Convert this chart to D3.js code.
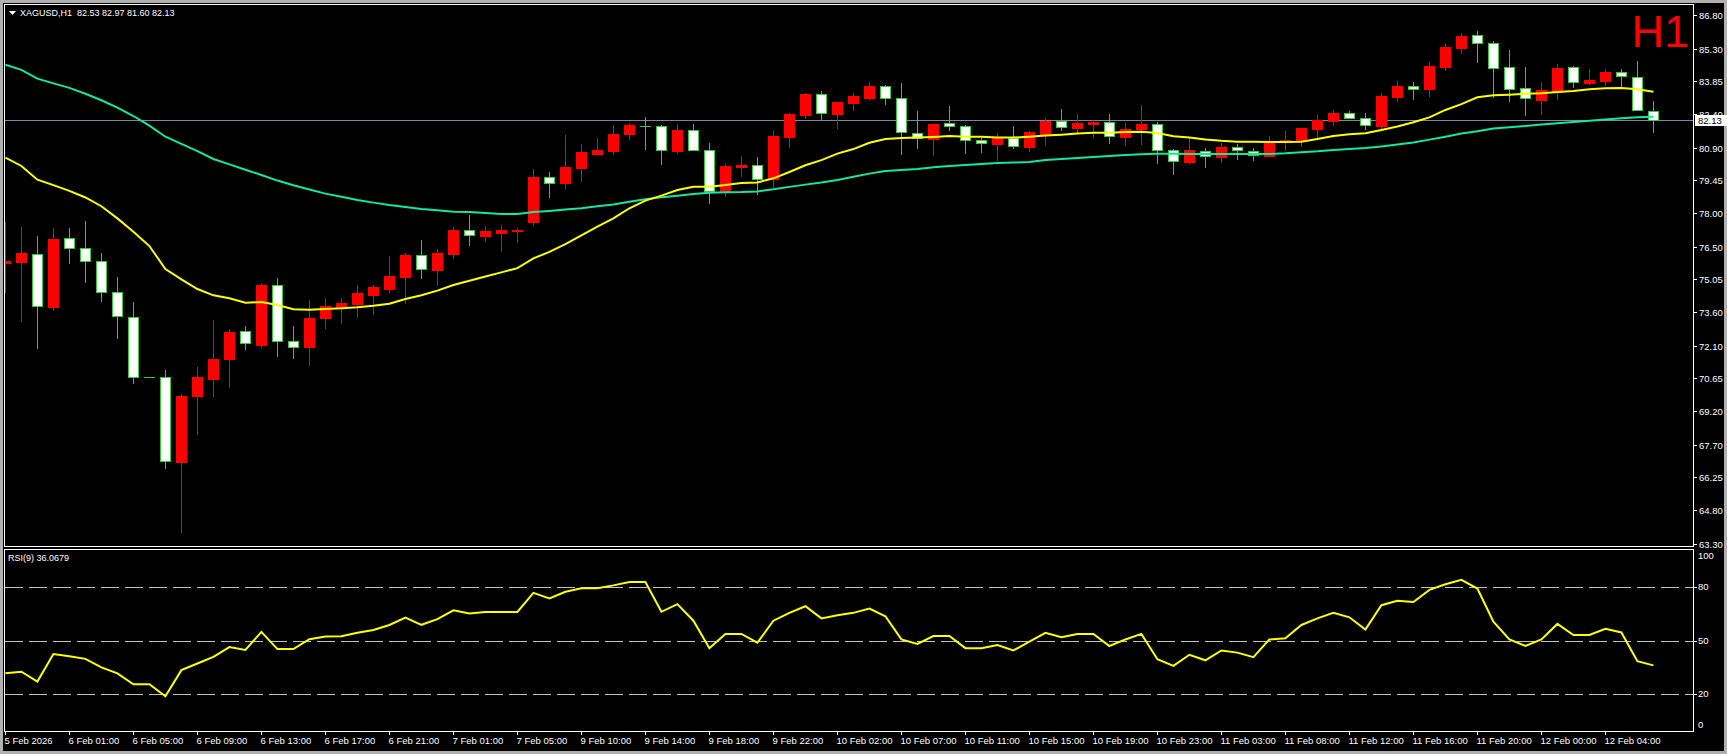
<!DOCTYPE html>
<html><head><meta charset="utf-8">
<script src="https://cdn.jsdelivr.net/npm/d3@7"></script>
<style>html,body{margin:0;padding:0;background:#000;overflow:hidden}</style>
</head><body>
<svg id="c" width="1727" height="754"></svg>
<script>
// ---------- DATA ----------
const symbolTitle = "XAGUSD,H1";
const lastOHLC = ["82.53","82.97","81.60","82.13"];
const opens = [75.79,75.83,76.16,73.82,76.87,76.43,75.85,74.47,73.36,70.69,70.69,66.95,69.88,70.64,71.52,72.74,72.14,74.78,72.29,72.06,73.35,73.82,73.97,74.37,74.64,75.17,76.12,75.48,76.19,77.23,76.99,77.12,77.22,77.61,79.58,79.35,80.01,80.64,80.77,81.53,81.88,81.85,80.77,81.67,80.78,78.96,80.04,80.12,79.51,81.38,82.36,83.27,82.41,82.90,83.13,83.63,83.10,81.54,81.30,81.98,81.85,81.23,81.08,81.32,80.93,81.51,82.07,81.79,81.97,82.03,81.39,81.73,81.94,80.78,80.28,80.74,80.50,80.92,80.74,80.55,81.22,81.22,81.73,82.10,82.43,82.21,81.88,83.17,83.63,83.51,84.49,85.35,85.91,85.54,84.47,83.54,83.02,83.39,84.47,83.78,83.87,84.25,84.03,82.53];
const highs = [77.58,77.38,76.98,77.33,77.33,77.64,76.22,75.15,74.04,70.69,71.02,69.95,71.15,73.24,72.84,72.98,74.89,75.11,72.98,74.13,74.23,74.22,74.80,74.80,76.10,76.22,76.80,76.40,77.37,77.91,77.42,77.46,77.33,79.95,79.82,81.47,81.07,81.33,81.91,82.00,82.27,81.90,81.95,81.95,81.11,80.18,80.53,80.49,81.64,82.44,83.33,83.42,82.95,83.32,83.81,83.69,83.78,82.53,81.97,82.76,81.91,81.35,81.55,81.87,81.64,82.22,82.62,82.41,82.13,82.40,82.00,82.80,82.04,80.84,81.35,80.89,81.11,81.07,80.89,81.42,81.64,81.78,82.36,82.58,82.53,82.43,83.32,83.87,83.82,84.71,85.51,85.99,86.09,85.63,85.24,84.49,83.82,84.62,84.53,84.40,84.40,84.40,84.76,82.97];
const lows = [74.50,73.21,72.01,73.70,75.79,74.95,74.10,72.46,70.46,70.69,66.68,63.84,68.19,69.88,70.28,71.97,72.06,71.66,71.57,71.26,72.90,73.12,73.39,73.52,74.50,74.01,75.12,74.81,76.01,76.58,76.75,76.31,76.71,77.47,78.72,79.12,79.44,80.64,80.64,81.29,80.86,80.19,80.68,80.78,78.46,78.77,79.64,78.86,79.17,80.93,82.24,82.18,81.79,82.59,83.08,82.86,80.64,80.90,80.57,81.69,80.66,80.71,80.35,80.90,80.75,81.02,81.69,81.54,81.38,81.11,81.02,81.08,80.22,79.73,80.22,80.04,80.27,80.40,80.35,80.52,80.80,80.98,81.36,81.91,82.21,81.75,81.75,82.99,83.07,83.20,84.36,85.13,84.71,83.14,82.98,82.35,82.40,83.08,83.62,83.73,83.69,83.64,82.56,81.60];
const closes = [75.86,76.22,73.85,76.84,76.43,75.85,74.47,73.40,70.69,70.69,66.98,69.86,70.71,71.51,72.71,72.20,74.80,72.29,72.04,73.33,73.86,74.00,74.44,74.71,75.20,76.13,75.49,76.22,77.24,77.00,77.18,77.24,77.24,79.60,79.32,80.04,80.71,80.80,81.51,81.91,81.88,80.78,81.69,80.78,78.96,80.09,80.12,79.52,81.42,82.40,83.29,82.43,82.93,83.20,83.64,83.10,81.59,81.35,81.95,81.85,81.23,81.10,81.35,80.96,81.60,82.09,81.81,82.00,82.04,81.41,81.72,81.95,80.78,80.29,80.80,80.52,80.93,80.78,80.56,81.13,81.26,81.78,82.13,82.43,82.21,81.90,83.20,83.64,83.53,84.53,85.38,85.87,85.54,84.46,83.50,83.10,83.47,84.44,83.84,83.91,84.27,84.07,82.56,82.13];
const maFast = [80.46,80.09,79.48,79.24,78.98,78.69,78.30,77.76,77.17,76.53,75.51,75.05,74.62,74.34,74.21,74.01,74.04,73.91,73.72,73.70,73.73,73.76,73.81,73.88,73.97,74.18,74.34,74.55,74.80,74.99,75.18,75.36,75.55,75.98,76.27,76.62,77.01,77.39,77.76,78.21,78.55,78.77,79.02,79.17,79.17,79.24,79.33,79.36,79.54,79.82,80.12,80.35,80.64,80.84,81.12,81.29,81.33,81.35,81.38,81.42,81.39,81.39,81.35,81.35,81.39,81.44,81.48,81.53,81.57,81.57,81.60,81.61,81.55,81.41,81.35,81.27,81.21,81.17,81.17,81.16,81.16,81.17,81.29,81.42,81.50,81.54,81.69,81.84,82.03,82.25,82.58,82.84,83.14,83.23,83.26,83.30,83.32,83.38,83.42,83.50,83.54,83.56,83.50,83.39];
const maSlow = [84.59,84.36,83.97,83.76,83.56,83.30,83.01,82.68,82.31,81.88,81.39,81.07,80.75,80.40,80.16,79.92,79.69,79.44,79.23,79.04,78.86,78.72,78.58,78.46,78.35,78.27,78.18,78.12,78.06,78.04,78.00,77.95,77.95,78.04,78.09,78.15,78.21,78.30,78.38,78.50,78.61,78.70,78.77,78.84,78.90,78.92,78.93,78.96,79.05,79.16,79.26,79.35,79.47,79.61,79.75,79.87,79.91,79.95,80.03,80.09,80.13,80.18,80.22,80.24,80.27,80.36,80.40,80.44,80.49,80.53,80.58,80.61,80.63,80.63,80.62,80.62,80.62,80.62,80.62,80.62,80.65,80.70,80.74,80.80,80.84,80.89,80.96,81.04,81.13,81.26,81.39,81.53,81.63,81.75,81.81,81.87,81.93,81.99,82.04,82.10,82.16,82.21,82.25,82.28];
const rsi = [31.6,32.5,27.0,42.4,41.2,39.7,34.9,31.6,25.5,25.5,18.7,33.4,37.1,40.8,46.3,44.7,54.8,45.2,45.2,50.7,52.2,52.4,54.4,55.9,58.7,62.9,58.8,62.0,66.9,65.1,66.0,66.0,66.0,76.7,73.6,77.3,79.3,79.3,80.9,82.8,82.8,66.1,70.4,61.1,45.7,53.7,53.7,48.8,61.1,65.5,69.2,62.4,64.2,65.5,67.9,63.6,50.6,48.1,52.5,52.5,45.7,45.7,47.5,44.4,49.4,54.3,51.9,53.7,53.7,46.9,50.6,53.7,39.5,35.8,42.0,38.9,44.4,43.2,40.7,50.6,51.2,58.7,62.4,65.5,63.0,56.2,69.8,72.3,71.6,78.4,81.5,84.0,79.1,60.5,50.6,46.9,50.6,59.3,53.1,53.1,56.6,54.5,38.4,36.07];
const rsiLabel = "RSI(9) 36.0679";
const priceTicks = ["86.80","85.30","83.85","82.40","80.90","79.45","78.00","76.50","75.05","73.60","72.10","70.65","69.20","67.70","66.25","64.80","63.30"];
const bidPrice = 82.13;
const rsiLevels = [80,50,20];
const rsiTickLabels = ["100","80","50","20","0"];
const timeLabels = ["5 Feb 2026","6 Feb 01:00","6 Feb 05:00","6 Feb 09:00","6 Feb 13:00","6 Feb 17:00","6 Feb 21:00","7 Feb 01:00","7 Feb 05:00","9 Feb 10:00","9 Feb 14:00","9 Feb 18:00","9 Feb 22:00","10 Feb 02:00","10 Feb 07:00","10 Feb 11:00","10 Feb 15:00","10 Feb 19:00","10 Feb 23:00","11 Feb 03:00","11 Feb 08:00","11 Feb 12:00","11 Feb 16:00","11 Feb 20:00","12 Feb 00:00","12 Feb 04:00"];
const labelEvery = 4;

// ---------- LAYOUT ----------
const W = 1727, H = 754;
const plotL = 4, plotR = 1693, mainT = 4, mainB = 546, rsiT = 549, rsiB = 731;
const FONT = "'Liberation Sans', Arial, sans-serif";
const UP = "#ff0000", DOWN_FILL = "#ffffff", DOWN_LINE = "#32cd32";

const svg = d3.select("#c");
svg.append("rect").attr("width", W).attr("height", H).attr("fill", "#b0b0b0");
svg.append("rect").attr("x", 3).attr("y", 3).attr("width", W - 6).attr("height", H - 6).attr("fill", "#000");

const n = closes.length;
const x = d3.scaleLinear().domain([0, n - 1]).range([5.4, 5.4 + 16 * (n - 1)]);
const y = d3.scaleLinear().domain([63.3, 86.8]).range([543.7, 15]);
const yr = d3.scaleLinear().domain([0, 100]).range([729.7, 551.3]);
const px = i => Math.floor(x(i));

const defs = svg.append("defs");
defs.append("clipPath").attr("id", "clipMain").append("rect")
  .attr("x", plotL + 1).attr("y", mainT + 1).attr("width", plotR - plotL - 1).attr("height", mainB - mainT - 1);
defs.append("clipPath").attr("id", "clipRsi").append("rect")
  .attr("x", plotL + 1).attr("y", rsiT + 1).attr("width", plotR - plotL - 1).attr("height", rsiB - rsiT - 1);

// ---------- MAIN PANEL ----------
const main = svg.append("g").attr("clip-path", "url(#clipMain)");

// bid line
main.append("line").attr("x1", plotL).attr("x2", plotR)
  .attr("y1", Math.round(y(bidPrice)) + 0.5).attr("y2", Math.round(y(bidPrice)) + 0.5)
  .attr("stroke", "#7a8a9c").attr("stroke-width", 1).attr("shape-rendering", "crispEdges");

const idx = d3.range(n);
const candles = main.append("g").attr("shape-rendering", "crispEdges");
idx.forEach(i => {
  const o = opens[i], c = closes[i], h = highs[i], l = lows[i];
  const up = c > o;
  const cx = px(i);
  const col = up ? UP : DOWN_LINE;
  candles.append("line").attr("x1", cx + 0.5).attr("x2", cx + 0.5)
    .attr("y1", Math.round(y(h))).attr("y2", Math.round(y(l)) + 1)
    .attr("stroke", col).attr("stroke-width", 1);
  const top = Math.round(y(Math.max(o, c))), bot = Math.round(y(Math.min(o, c)));
  if (bot - top < 1) {
    candles.append("line").attr("x1", cx - 5).attr("x2", cx + 6)
      .attr("y1", top + 0.5).attr("y2", top + 0.5).attr("stroke", col).attr("stroke-width", 1);
  } else if (up) {
    candles.append("rect").attr("x", cx - 5).attr("y", top).attr("width", 11).attr("height", bot - top + 1)
      .attr("fill", UP);
  } else {
    candles.append("rect").attr("x", cx - 4.5).attr("y", top + 0.5).attr("width", 10).attr("height", bot - top)
      .attr("fill", DOWN_FILL).attr("stroke", DOWN_LINE).attr("stroke-width", 1);
  }
});

const lineGen = arr => d3.line().x((d, i) => x(i)).y(d => y(d))(arr);
main.append("path").attr("d", lineGen(maSlow)).attr("fill", "none").attr("stroke", "#13e8a0").attr("stroke-width", 2);
main.append("path").attr("d", lineGen(maFast)).attr("fill", "none").attr("stroke", "#ffff00").attr("stroke-width", 2);

// frame
svg.append("rect").attr("x", plotL + 0.5).attr("y", mainT + 0.5).attr("width", plotR - plotL).attr("height", mainB - mainT)
  .attr("fill", "none").attr("stroke", "#fff").attr("stroke-width", 1).attr("shape-rendering", "crispEdges");

// header
svg.append("path").attr("d", "M9,11 L16,11 L12.5,15 Z").attr("fill", "#fff");
svg.append("text").attr("x", 20).attr("y", 16).attr("font-family", FONT).attr("font-size", 9)
  .attr("fill", "#fff").attr("xml:space", "preserve")
  .text(symbolTitle + "  " + lastOHLC.join(" "));

// H1 label
svg.append("text").attr("x", 1689).attr("y", 47).attr("text-anchor", "end")
  .attr("font-family", FONT).attr("font-size", 45).attr("fill", "#ff0000").text("H1");

// price axis
const pa = svg.append("g");
priceTicks.forEach(t => {
  const yy = Math.round(y(+t)) + 0.5;
  pa.append("line").attr("x1", plotR).attr("x2", plotR + 4).attr("y1", yy).attr("y2", yy)
    .attr("stroke", "#fff").attr("shape-rendering", "crispEdges");
  pa.append("text").attr("x", 1699).attr("y", yy).attr("dy", "0.35em")
    .attr("font-family", FONT).attr("font-size", 9.5).attr("fill", "#fff").text(t);
});
// bid label
const by = y(bidPrice);
pa.append("rect").attr("x", 1695).attr("y", Math.round(by) - 5).attr("width", 32).attr("height", 11).attr("fill", "#fff");
pa.append("text").attr("x", 1698).attr("y", Math.round(by) + 0.5).attr("dy", "0.35em")
  .attr("font-family", FONT).attr("font-size", 9.5).attr("fill", "#000").text(bidPrice.toFixed(2));

// ---------- RSI PANEL ----------
const rp = svg.append("g").attr("clip-path", "url(#clipRsi)");
rsiLevels.forEach(v => {
  rp.append("line").attr("x1", plotL + 1).attr("x2", plotR).attr("y1", Math.round(yr(v)) + 0.5).attr("y2", Math.round(yr(v)) + 0.5)
    .attr("stroke", "#c0c0c0").attr("stroke-dasharray", "18,6").attr("shape-rendering", "crispEdges");
});
rp.append("path").attr("d", d3.line().x((d, i) => x(i)).y(d => yr(d))(rsi))
  .attr("fill", "none").attr("stroke", "#ffff00").attr("stroke-width", 2);

svg.append("rect").attr("x", plotL + 0.5).attr("y", rsiT + 0.5).attr("width", plotR - plotL).attr("height", rsiB - rsiT)
  .attr("fill", "none").attr("stroke", "#fff").attr("stroke-width", 1).attr("shape-rendering", "crispEdges");

svg.append("text").attr("x", 8).attr("y", 561).attr("font-family", FONT).attr("font-size", 9)
  .attr("fill", "#fff").text(rsiLabel);

rsiTickLabels.forEach(t => {
  const v = +t;
  let yy = yr(v);
  if (v === 100) yy = yr(v) + 4;
  if (v === 0) yy = yr(v) - 5;
  if (v !== 100 && v !== 0) {
    svg.append("line").attr("x1", plotR).attr("x2", plotR + 4).attr("y1", Math.round(yr(v)) + 0.5).attr("y2", Math.round(yr(v)) + 0.5)
      .attr("stroke", "#fff").attr("shape-rendering", "crispEdges");
  }
  svg.append("text").attr("x", 1698).attr("y", yy).attr("dy", "0.35em")
    .attr("font-family", FONT).attr("font-size", 9.5).attr("fill", "#fff").text(t);
});

// ---------- TIME AXIS ----------
timeLabels.forEach((t, k) => {
  const i = k * labelEvery;
  const xx = px(i) + 0.5;
  svg.append("line").attr("x1", xx).attr("x2", xx).attr("y1", rsiB).attr("y2", rsiB + 4)
    .attr("stroke", "#fff").attr("shape-rendering", "crispEdges");
  svg.append("text").attr("x", Math.max(xx - 1, 4)).attr("y", 744)
    .attr("font-family", FONT).attr("font-size", 9.5).attr("fill", "#fff").text(t);
});
</script>
</body></html>
